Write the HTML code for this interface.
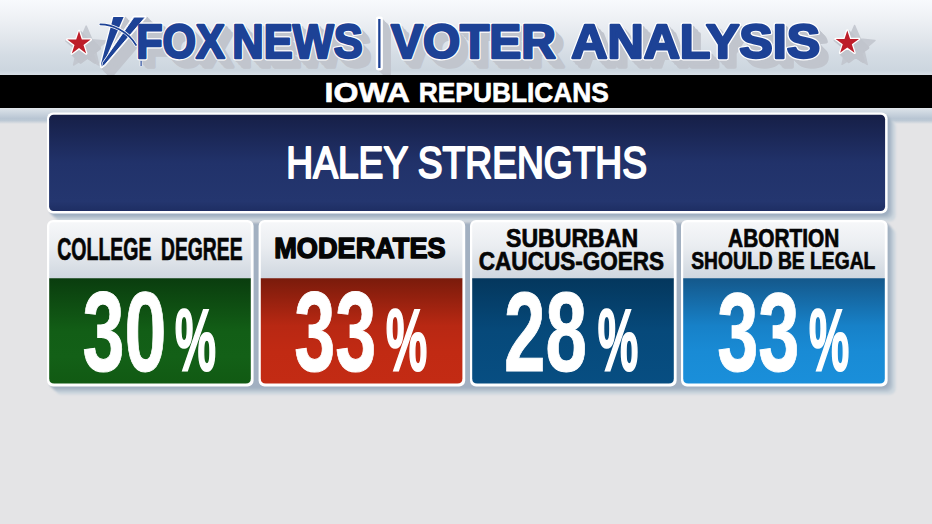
<!DOCTYPE html>
<html lang="en">
<head>
<meta charset="utf-8">
<title>Fox News Voter Analysis - Iowa Republicans - Haley Strengths</title>
<style>
  html, body { margin: 0; padding: 0; background: #e4e4e6; }
  body { width: 932px; height: 524px; overflow: hidden; position: relative; }
  svg { position: absolute; left: 0; top: 0; display: block; }
  text { font-family: "Liberation Sans", sans-serif; font-weight: 700; }
  .hd { fill: #1d4296; }
  .hdsh { fill: #c1c5cd; stroke: #c1c5cd; stroke-width: 3.4px; stroke-linejoin: round; }
  .hdol { fill: #ffffff; stroke: #ffffff; stroke-width: 4.8px; stroke-linejoin: round; }
  .hdbl { fill: #1d4296; stroke: #1d4296; stroke-width: 2.4px; stroke-linejoin: round; }
  .lbl { fill: #050505; stroke: #050505; stroke-width: 0.7px; }
  .lbl2 { fill: #050505; stroke: #050505; stroke-width: 1.5px; stroke-linejoin: round; }
  .num { fill: #ffffff; stroke: #ffffff; stroke-width: 1px; }
  .pct { fill: #ffffff; stroke: #ffffff; stroke-width: 2.2px; }
</style>
</head>
<body>
<svg width="932" height="524" viewBox="0 0 932 524">
  <defs>
    <linearGradient id="gHead" x1="0" y1="0" x2="0" y2="1">
      <stop offset="0" stop-color="#f8fafd"/>
      <stop offset="0.27" stop-color="#edf0f4"/>
      <stop offset="0.53" stop-color="#e0e5eb"/>
      <stop offset="0.73" stop-color="#d4dce4"/>
      <stop offset="0.93" stop-color="#ccd6df"/>
      <stop offset="1" stop-color="#d9e1e8"/>
    </linearGradient>
    <linearGradient id="gUnder" x1="0" y1="0" x2="0" y2="1">
      <stop offset="0" stop-color="#e6ebef"/>
      <stop offset="0.2" stop-color="#d5dde5"/>
      <stop offset="0.68" stop-color="#b8c5d3"/>
      <stop offset="0.8" stop-color="#bdc9d5"/>
      <stop offset="1" stop-color="#e4e4e6"/>
    </linearGradient>
    <linearGradient id="gNavy" x1="0" y1="0" x2="0" y2="1">
      <stop offset="0" stop-color="#161f47"/>
      <stop offset="0.5" stop-color="#21326a"/>
      <stop offset="0.9" stop-color="#24366f"/>
      <stop offset="1" stop-color="#1e2e63"/>
    </linearGradient>
    <linearGradient id="gLabel" x1="0" y1="0" x2="0" y2="1">
      <stop offset="0" stop-color="#f6f7f9"/>
      <stop offset="0.4" stop-color="#eaedf1"/>
      <stop offset="1" stop-color="#ccd4dd"/>
    </linearGradient>
    <linearGradient id="gGreen" x1="0" y1="0" x2="0" y2="1">
      <stop offset="0" stop-color="#0a3d0e"/>
      <stop offset="0.5" stop-color="#125e16"/>
      <stop offset="0.75" stop-color="#136017"/>
      <stop offset="1" stop-color="#115a13"/>
    </linearGradient>
    <linearGradient id="gRed" x1="0" y1="0" x2="0" y2="1">
      <stop offset="0" stop-color="#7a1b0b"/>
      <stop offset="0.45" stop-color="#b82813"/>
      <stop offset="0.7" stop-color="#c12a13"/>
      <stop offset="1" stop-color="#c32b14"/>
    </linearGradient>
    <linearGradient id="gDBlue" x1="0" y1="0" x2="0" y2="1">
      <stop offset="0" stop-color="#04375d"/>
      <stop offset="0.5" stop-color="#06497a"/>
      <stop offset="1" stop-color="#074e82"/>
    </linearGradient>
    <linearGradient id="gLBlue" x1="0" y1="0" x2="0" y2="1">
      <stop offset="0" stop-color="#14588b"/>
      <stop offset="0.45" stop-color="#1781c8"/>
      <stop offset="0.7" stop-color="#198bd5"/>
      <stop offset="1" stop-color="#1a8fda"/>
    </linearGradient>
    <filter id="fSh" x="-5%" y="-10%" width="110%" height="125%">
      <feGaussianBlur stdDeviation="0.9"/>
    </filter>
  </defs>

  <!-- page background -->
  <rect x="0" y="0" width="932" height="524" fill="#e4e4e6"/>
  <!-- header band -->
  <rect x="0" y="0" width="932" height="76" fill="url(#gHead)"/>
  <!-- strip under black bar -->
  <rect x="0" y="107" width="932" height="17" fill="url(#gUnder)"/>
  <!-- black bar -->
  <!-- HEADER-BEGIN -->
  <!-- logo: extruded grey shadow -->
  <g class="hdsh">
   <g transform="translate(1.45,1.45)">
    <text x="136.3" y="58.3" font-size="47.5" textLength="88.5" lengthAdjust="spacingAndGlyphs">FOX</text>
    <text x="232.3" y="58.3" font-size="47.5" textLength="130.3" lengthAdjust="spacingAndGlyphs">NEWS</text>
    <text x="391.0" y="58.3" font-size="47.5" textLength="164.8" lengthAdjust="spacingAndGlyphs">VOTER</text>
    <text x="571.2" y="58.3" font-size="47.5" textLength="249.0" lengthAdjust="spacingAndGlyphs">ANALYSIS</text>
    <rect x="378.2" y="19" width="2.3" height="49"/>
    <path d="M113.3 17.1 L123.6 17.1 L104.2 62 L101.6 66.8 L101 64 Z"/><path d="M134 17.1 L145.3 17.1 L104.5 65 L101.6 66.8 L102.5 62.5 Z"/>
    <path d="M79.0 31.1 L81.8 39.6 L90.7 39.6 L83.5 44.9 L86.2 53.4 L79.0 48.1 L71.8 53.4 L74.5 44.9 L67.3 39.6 L76.2 39.6 Z"/><path d="M847.3 30.5 L850.1 39.0 L859.0 39.0 L851.8 44.3 L854.5 52.8 L847.3 47.5 L840.1 52.8 L842.8 44.3 L835.6 39.0 L844.5 39.0 Z"/>
   </g>
   <g transform="translate(2.9,2.9)">
    <text x="136.3" y="58.3" font-size="47.5" textLength="88.5" lengthAdjust="spacingAndGlyphs">FOX</text>
    <text x="232.3" y="58.3" font-size="47.5" textLength="130.3" lengthAdjust="spacingAndGlyphs">NEWS</text>
    <text x="391.0" y="58.3" font-size="47.5" textLength="164.8" lengthAdjust="spacingAndGlyphs">VOTER</text>
    <text x="571.2" y="58.3" font-size="47.5" textLength="249.0" lengthAdjust="spacingAndGlyphs">ANALYSIS</text>
    <rect x="378.2" y="19" width="2.3" height="49"/>
    <path d="M113.3 17.1 L123.6 17.1 L104.2 62 L101.6 66.8 L101 64 Z"/><path d="M134 17.1 L145.3 17.1 L104.5 65 L101.6 66.8 L102.5 62.5 Z"/>
    <path d="M79.0 31.1 L81.8 39.6 L90.7 39.6 L83.5 44.9 L86.2 53.4 L79.0 48.1 L71.8 53.4 L74.5 44.9 L67.3 39.6 L76.2 39.6 Z"/><path d="M847.3 30.5 L850.1 39.0 L859.0 39.0 L851.8 44.3 L854.5 52.8 L847.3 47.5 L840.1 52.8 L842.8 44.3 L835.6 39.0 L844.5 39.0 Z"/>
   </g>
   <g transform="translate(4.35,4.35)">
    <text x="136.3" y="58.3" font-size="47.5" textLength="88.5" lengthAdjust="spacingAndGlyphs">FOX</text>
    <text x="232.3" y="58.3" font-size="47.5" textLength="130.3" lengthAdjust="spacingAndGlyphs">NEWS</text>
    <text x="391.0" y="58.3" font-size="47.5" textLength="164.8" lengthAdjust="spacingAndGlyphs">VOTER</text>
    <text x="571.2" y="58.3" font-size="47.5" textLength="249.0" lengthAdjust="spacingAndGlyphs">ANALYSIS</text>
    <rect x="378.2" y="19" width="2.3" height="49"/>
    <path d="M113.3 17.1 L123.6 17.1 L104.2 62 L101.6 66.8 L101 64 Z"/><path d="M134 17.1 L145.3 17.1 L104.5 65 L101.6 66.8 L102.5 62.5 Z"/>
    <path d="M79.0 31.1 L81.8 39.6 L90.7 39.6 L83.5 44.9 L86.2 53.4 L79.0 48.1 L71.8 53.4 L74.5 44.9 L67.3 39.6 L76.2 39.6 Z"/><path d="M847.3 30.5 L850.1 39.0 L859.0 39.0 L851.8 44.3 L854.5 52.8 L847.3 47.5 L840.1 52.8 L842.8 44.3 L835.6 39.0 L844.5 39.0 Z"/>
   </g>
   <g transform="translate(5.8,5.8)">
    <text x="136.3" y="58.3" font-size="47.5" textLength="88.5" lengthAdjust="spacingAndGlyphs">FOX</text>
    <text x="232.3" y="58.3" font-size="47.5" textLength="130.3" lengthAdjust="spacingAndGlyphs">NEWS</text>
    <text x="391.0" y="58.3" font-size="47.5" textLength="164.8" lengthAdjust="spacingAndGlyphs">VOTER</text>
    <text x="571.2" y="58.3" font-size="47.5" textLength="249.0" lengthAdjust="spacingAndGlyphs">ANALYSIS</text>
    <rect x="378.2" y="19" width="2.3" height="49"/>
    <path d="M113.3 17.1 L123.6 17.1 L104.2 62 L101.6 66.8 L101 64 Z"/><path d="M134 17.1 L145.3 17.1 L104.5 65 L101.6 66.8 L102.5 62.5 Z"/>
    <path d="M79.0 31.1 L81.8 39.6 L90.7 39.6 L83.5 44.9 L86.2 53.4 L79.0 48.1 L71.8 53.4 L74.5 44.9 L67.3 39.6 L76.2 39.6 Z"/><path d="M847.3 30.5 L850.1 39.0 L859.0 39.0 L851.8 44.3 L854.5 52.8 L847.3 47.5 L840.1 52.8 L842.8 44.3 L835.6 39.0 L844.5 39.0 Z"/>
   </g>
   <g transform="translate(7.25,7.25)">
    <text x="136.3" y="58.3" font-size="47.5" textLength="88.5" lengthAdjust="spacingAndGlyphs">FOX</text>
    <text x="232.3" y="58.3" font-size="47.5" textLength="130.3" lengthAdjust="spacingAndGlyphs">NEWS</text>
    <text x="391.0" y="58.3" font-size="47.5" textLength="164.8" lengthAdjust="spacingAndGlyphs">VOTER</text>
    <text x="571.2" y="58.3" font-size="47.5" textLength="249.0" lengthAdjust="spacingAndGlyphs">ANALYSIS</text>
    <rect x="378.2" y="19" width="2.3" height="49"/>
    <path d="M113.3 17.1 L123.6 17.1 L104.2 62 L101.6 66.8 L101 64 Z"/><path d="M134 17.1 L145.3 17.1 L104.5 65 L101.6 66.8 L102.5 62.5 Z"/>
    <path d="M79.0 31.1 L81.8 39.6 L90.7 39.6 L83.5 44.9 L86.2 53.4 L79.0 48.1 L71.8 53.4 L74.5 44.9 L67.3 39.6 L76.2 39.6 Z"/><path d="M847.3 30.5 L850.1 39.0 L859.0 39.0 L851.8 44.3 L854.5 52.8 L847.3 47.5 L840.1 52.8 L842.8 44.3 L835.6 39.0 L844.5 39.0 Z"/>
   </g>
   <g transform="translate(8.7,8.7)">
    <text x="136.3" y="58.3" font-size="47.5" textLength="88.5" lengthAdjust="spacingAndGlyphs">FOX</text>
    <text x="232.3" y="58.3" font-size="47.5" textLength="130.3" lengthAdjust="spacingAndGlyphs">NEWS</text>
    <text x="391.0" y="58.3" font-size="47.5" textLength="164.8" lengthAdjust="spacingAndGlyphs">VOTER</text>
    <text x="571.2" y="58.3" font-size="47.5" textLength="249.0" lengthAdjust="spacingAndGlyphs">ANALYSIS</text>
    <rect x="378.2" y="19" width="2.3" height="49"/>
    <path d="M113.3 17.1 L123.6 17.1 L104.2 62 L101.6 66.8 L101 64 Z"/><path d="M134 17.1 L145.3 17.1 L104.5 65 L101.6 66.8 L102.5 62.5 Z"/>
    <path d="M79.0 31.1 L81.8 39.6 L90.7 39.6 L83.5 44.9 L86.2 53.4 L79.0 48.1 L71.8 53.4 L74.5 44.9 L67.3 39.6 L76.2 39.6 Z"/><path d="M847.3 30.5 L850.1 39.0 L859.0 39.0 L851.8 44.3 L854.5 52.8 L847.3 47.5 L840.1 52.8 L842.8 44.3 L835.6 39.0 L844.5 39.0 Z"/>
   </g>
   <path d="M86.2 26.1 L92.0 39.7 L106.6 41.0 L95.5 50.6 L98.8 65.0 L86.2 57.4 L73.6 65.0 L76.9 50.6 L65.8 41.0 L80.4 39.7 Z" stroke-width="1.5" opacity="0.85"/>
   <path d="M854.6 25.5 L860.4 39.1 L875.0 40.4 L863.9 50.0 L867.2 64.4 L854.6 56.8 L842.0 64.4 L845.3 50.0 L834.2 40.4 L848.8 39.1 Z" stroke-width="1.5" opacity="0.85"/>
  </g>
  <!-- black bar -->
  <rect x="0" y="75" width="932" height="33" fill="#000000"/>
  <text x="324.56" y="101.72" font-size="26.87" textLength="85.48" lengthAdjust="spacingAndGlyphs" fill="#ffffff" stroke="#ffffff" stroke-width="0.6">IOWA</text>  <text x="418.77" y="101.72" font-size="26.87" textLength="190.14" lengthAdjust="spacingAndGlyphs" fill="#ffffff" stroke="#ffffff" stroke-width="0.6">REPUBLICANS</text>
  <!-- logo: white outline -->
  <g class="hdol">
   <text x="136.3" y="58.3" font-size="47.5" textLength="88.5" lengthAdjust="spacingAndGlyphs">FOX</text>
   <text x="232.3" y="58.3" font-size="47.5" textLength="130.3" lengthAdjust="spacingAndGlyphs">NEWS</text>
   <text x="391.0" y="58.3" font-size="47.5" textLength="164.8" lengthAdjust="spacingAndGlyphs">VOTER</text>
   <text x="571.2" y="58.3" font-size="47.5" textLength="249.0" lengthAdjust="spacingAndGlyphs">ANALYSIS</text>
   <rect x="378.2" y="19" width="2.3" height="49"/>
  </g>
  <g fill="#ffffff" stroke="#ffffff" stroke-width="2.6" stroke-linejoin="round">
   <path d="M113.3 17.1 L123.6 17.1 L104.2 62 L101.6 66.8 L101 64 Z"/><path d="M134 17.1 L145.3 17.1 L104.5 65 L101.6 66.8 L102.5 62.5 Z"/><path d="M79.0 31.1 L81.8 39.6 L90.7 39.6 L83.5 44.9 L86.2 53.4 L79.0 48.1 L71.8 53.4 L74.5 44.9 L67.3 39.6 L76.2 39.6 Z"/><path d="M847.3 30.5 L850.1 39.0 L859.0 39.0 L851.8 44.3 L854.5 52.8 L847.3 47.5 L840.1 52.8 L842.8 44.3 L835.6 39.0 L844.5 39.0 Z"/>
  </g>
  <!-- searchlight beams + arc -->
  <path d="M113.3 17.1 L123.6 17.1 L104.2 62 L101.6 66.8 L101 64 Z" fill="#1d4296"/>
  <path d="M134 17.1 L145.3 17.1 L104.5 65 L101.6 66.8 L102.5 62.5 Z" fill="#1d4296" stroke="#ffffff" stroke-width="0.9"/>
  <path d="M100.3 24.3 C112 24.3 128 31 136 45" fill="none" stroke="#ffffff" stroke-width="3.3" stroke-linecap="round"/>
  <path d="M100.3 24.3 C112 24.3 128 31 136 45" fill="none" stroke="#1d4296" stroke-width="1.7" stroke-linecap="round"/>
  <!-- logo: blue face -->
  <g class="hdbl">
   <text x="136.3" y="58.3" font-size="47.5" textLength="88.5" lengthAdjust="spacingAndGlyphs">FOX</text>
   <text x="232.3" y="58.3" font-size="47.5" textLength="130.3" lengthAdjust="spacingAndGlyphs">NEWS</text>
   <text x="391.0" y="58.3" font-size="47.5" textLength="164.8" lengthAdjust="spacingAndGlyphs">VOTER</text>
   <text x="571.2" y="58.3" font-size="47.5" textLength="249.0" lengthAdjust="spacingAndGlyphs">ANALYSIS</text>
  </g>
  <g fill="#1d4296"><rect x="378.2" y="19" width="2.3" height="49"/><rect x="140.1" y="60.5" width="2" height="6" rx="0.8" stroke="#ffffff" stroke-width="0.8"/></g>
  <!-- stars -->
  <path d="M79.0 31.1 L81.8 39.6 L90.7 39.6 L83.5 44.9 L86.2 53.4 L79.0 48.1 L71.8 53.4 L74.5 44.9 L67.3 39.6 L76.2 39.6 Z" fill="#bd1d29"/>
  <path d="M847.3 30.5 L850.1 39.0 L859.0 39.0 L851.8 44.3 L854.5 52.8 L847.3 47.5 L840.1 52.8 L842.8 44.3 L835.6 39.0 L844.5 39.0 Z" fill="#bd1d29"/>
  <!-- HEADER-END -->

  <!-- ===== title panel ===== -->
  <g filter="url(#fSh)">
    <rect x="55" y="120.5" width="840.6" height="101" rx="6" fill="#ccd6de"/>
    <rect x="52" y="117.5" width="840.6" height="101" rx="6" fill="#b4c1ce"/>
    <rect x="49.5" y="115" width="840.6" height="101" rx="6" fill="#9fafc1"/>
  </g>
  <!-- card row shadow -->
  <g filter="url(#fSh)">
    <rect x="55" y="228" width="840.6" height="166.5" rx="6" fill="#ccd6de"/>
    <rect x="52" y="225" width="840.6" height="166.5" rx="6" fill="#b4c1ce"/>
    <rect x="49.5" y="222.5" width="840.6" height="166.5" rx="6" fill="#a2b0c1"/>
  </g>
  <rect x="47" y="112.5" width="840.6" height="101" rx="6" fill="#ffffff"/>
  <rect x="49.1" y="114.8" width="836" height="96.2" rx="4.5" fill="url(#gNavy)"/>
  <text x="286.3" y="178.3" font-size="43.6" textLength="360.7" lengthAdjust="spacingAndGlyphs" fill="#ffffff" style="font-weight:400;stroke:#fff;stroke-width:2px;stroke-linejoin:round">HALEY STRENGTHS</text>

  <!-- CARDS-BEGIN -->
  <!-- card 1 -->
  <rect x="47.0" y="220" width="206.6" height="166.5" rx="6" fill="#ffffff"/>
  <rect x="49.2" y="222.2" width="201.6" height="60" rx="4" fill="url(#gLabel)"/>
  <path d="M49.2 278.3 H250.8 V378.5 Q250.8 383.5 245.8 383.5 H54.2 Q49.2 383.5 49.2 378.5 Z" fill="url(#gGreen)"/>
  <text x="57.28" y="259.74" font-size="30.48" textLength="94.15" lengthAdjust="spacingAndGlyphs" class="lbl">COLLEGE</text>
  <text x="161.04" y="259.74" font-size="30.48" textLength="81.53" lengthAdjust="spacingAndGlyphs" class="lbl">DEGREE</text>
  <text x="82.60" y="370.56" font-size="112.53" textLength="83.98" lengthAdjust="spacingAndGlyphs" class="num">30</text>
  <text x="174.95" y="369.60" font-size="88.00" textLength="40.99" lengthAdjust="spacingAndGlyphs" class="pct">%</text>
  <!-- card 2 -->
  <rect x="258.6" y="220" width="206.6" height="166.5" rx="6" fill="#ffffff"/>
  <rect x="260.8" y="222.2" width="201.6" height="60" rx="4" fill="url(#gLabel)"/>
  <path d="M260.8 278.3 H462.4 V378.5 Q462.4 383.5 457.4 383.5 H265.8 Q260.8 383.5 260.8 378.5 Z" fill="url(#gRed)"/>
  <text x="274.28" y="257.81" font-size="28.76" textLength="171.33" lengthAdjust="spacingAndGlyphs" class="lbl2">MODERATES</text>
  <text x="294.27" y="370.98" font-size="112.45" textLength="82.07" lengthAdjust="spacingAndGlyphs" class="num">33</text>
  <text x="386.08" y="369.60" font-size="88.00" textLength="41.20" lengthAdjust="spacingAndGlyphs" class="pct">%</text>
  <!-- card 3 -->
  <rect x="470.0" y="220" width="206.6" height="166.5" rx="6" fill="#ffffff"/>
  <rect x="472.2" y="222.2" width="201.6" height="60" rx="4" fill="url(#gLabel)"/>
  <path d="M472.2 278.3 H673.8 V378.5 Q673.8 383.5 668.8 383.5 H477.2 Q472.2 383.5 472.2 378.5 Z" fill="url(#gDBlue)"/>
  <text x="506.07" y="246.73" font-size="25.24" textLength="132.05" lengthAdjust="spacingAndGlyphs" class="lbl">SUBURBAN</text>
  <text x="478.82" y="270.04" font-size="25.97" textLength="185.31" lengthAdjust="spacingAndGlyphs" class="lbl">CAUCUS-GOERS</text>
  <text x="504.11" y="370.52" font-size="112.49" textLength="83.01" lengthAdjust="spacingAndGlyphs" class="num">28</text>
  <text x="597.75" y="369.60" font-size="88.00" textLength="40.53" lengthAdjust="spacingAndGlyphs" class="pct">%</text>
  <!-- card 4 -->
  <rect x="681.0" y="220" width="206.6" height="166.5" rx="6" fill="#ffffff"/>
  <rect x="683.2" y="222.2" width="201.6" height="60" rx="4" fill="url(#gLabel)"/>
  <path d="M683.2 278.3 H884.8 V378.5 Q884.8 383.5 879.8 383.5 H688.2 Q683.2 383.5 683.2 378.5 Z" fill="url(#gLBlue)"/>
  <text x="728.11" y="246.73" font-size="25.24" textLength="111.18" lengthAdjust="spacingAndGlyphs" class="lbl">ABORTION</text>
  <text x="691.26" y="269.46" font-size="24.61" textLength="184.06" lengthAdjust="spacingAndGlyphs" class="lbl">SHOULD BE LEGAL</text>
  <text x="717.13" y="370.51" font-size="111.08" textLength="82.19" lengthAdjust="spacingAndGlyphs" class="num">33</text>
  <text x="809.10" y="369.60" font-size="88.00" textLength="40.19" lengthAdjust="spacingAndGlyphs" class="pct">%</text>
  <!-- CARDS-END -->
</svg>
</body>
</html>
